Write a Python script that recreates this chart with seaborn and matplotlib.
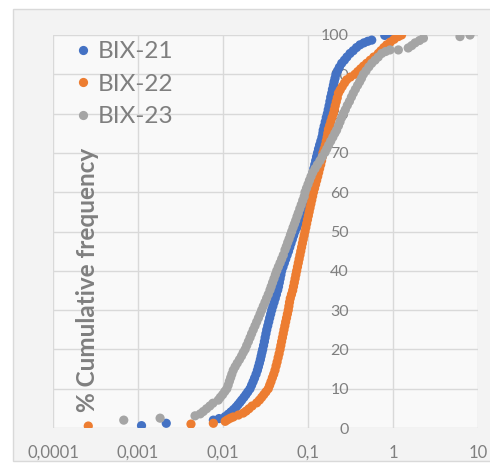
import matplotlib
matplotlib.use("Agg")
import matplotlib.pyplot as plt
from matplotlib.patches import Rectangle
import seaborn as sns
import pandas as pd

# ---- data ----
series_names = ["BIX-21", "BIX-22", "BIX-23"]
colors = ["#4472C4", "#ED7D31", "#A5A5A5"]

bix21_x = [0.00110, 0.00215, 0.00770, 0.00900, 0.01060, 0.01150, 0.01240, 0.01330, 0.01420, 0.01500,
           0.01580, 0.01660, 0.01760, 0.01860, 0.01960, 0.02080, 0.02170, 0.02260, 0.02350, 0.02450,
           0.02540, 0.02610, 0.02680, 0.02750, 0.02810, 0.02870, 0.02930, 0.03000, 0.03070, 0.03130,
           0.03200, 0.03270, 0.03360, 0.03450, 0.03540, 0.03640, 0.03740, 0.03860, 0.03990, 0.04120,
           0.04250, 0.04400, 0.04500, 0.04600, 0.04700, 0.04800, 0.04900, 0.05080, 0.05270, 0.05470,
           0.05680, 0.05900, 0.06100, 0.06310, 0.06540, 0.06780, 0.07030, 0.07370, 0.07720, 0.08080,
           0.08460, 0.08850, 0.09250, 0.09640, 0.09850, 0.10070, 0.10280, 0.10490, 0.10700, 0.10950,
           0.11200, 0.11450, 0.11700, 0.12000, 0.12300, 0.12600, 0.12950, 0.13300, 0.13700, 0.14150,
           0.14600, 0.14950, 0.15100, 0.15500, 0.15950, 0.16400, 0.16900, 0.17300, 0.17700, 0.18100,
           0.18500, 0.19000, 0.19400, 0.19900, 0.20300, 0.20800, 0.21300, 0.22300, 0.23400, 0.24900,
           0.26800, 0.28700, 0.31200, 0.34000, 0.37200, 0.40900, 0.45500, 0.50500, 0.56200, 0.80000,
           0.90000]
bix21_y = [0.6, 1.2, 2.0, 2.4, 2.9, 3.5, 4.1, 4.7, 5.3, 5.9,
           6.5, 7.1, 7.8, 8.5, 9.2, 10.0, 10.9, 11.8, 12.7, 13.7,
           14.7, 15.6, 16.5, 17.4, 18.3, 19.2, 20.0, 21.0, 22.0, 23.0,
           24.0, 25.0, 26.0, 27.0, 28.0, 29.0, 30.0, 31.0, 32.0, 33.0,
           34.0, 35.1, 36.0, 37.0, 38.0, 39.0, 40.0, 41.0, 42.0, 43.0,
           44.0, 45.0, 46.0, 47.0, 48.0, 49.0, 50.0, 51.0, 52.0, 53.0,
           54.0, 55.0, 56.0, 57.0, 58.0, 59.0, 60.0, 61.0, 62.0, 63.0,
           64.0, 65.0, 66.0, 67.0, 68.0, 69.0, 70.0, 71.0, 72.0, 73.0,
           74.0, 75.0, 75.8, 76.8, 77.9, 79.0, 80.0, 81.0, 82.0, 83.1,
           84.2, 85.2, 86.2, 87.2, 88.1, 89.0, 90.0, 90.9, 91.8, 92.8,
           93.6, 94.4, 95.3, 96.0, 96.8, 97.5, 98.0, 98.4, 98.7, 99.9,
           100.0]

bix22_x = [0.00026, 0.00420, 0.00770, 0.01060, 0.01130, 0.01220, 0.01320, 0.01520, 0.01730, 0.01870,
           0.02020, 0.02200, 0.02490, 0.02680, 0.02850, 0.03020, 0.03200, 0.03410, 0.03540, 0.03670,
           0.03810, 0.03950, 0.04090, 0.04210, 0.04330, 0.04450, 0.04570, 0.04690, 0.04790, 0.04890,
           0.05000, 0.05110, 0.05220, 0.05340, 0.05460, 0.05590, 0.05720, 0.05860, 0.05960, 0.06060,
           0.06190, 0.06390, 0.06600, 0.06750, 0.06900, 0.07050, 0.07200, 0.07360, 0.07520, 0.07690,
           0.07860, 0.08040, 0.08220, 0.08400, 0.08590, 0.08790, 0.09000, 0.09220, 0.09430, 0.09640,
           0.09860, 0.10090, 0.10320, 0.10560, 0.10810, 0.11070, 0.11330, 0.11600, 0.11940, 0.12280,
           0.12640, 0.13000, 0.13350, 0.13700, 0.14100, 0.14450, 0.14750, 0.15000, 0.15500, 0.16000,
           0.16400, 0.16800, 0.17100, 0.17400, 0.18000, 0.18600, 0.19200, 0.19900, 0.20400, 0.20900,
           0.21500, 0.22100, 0.22800, 0.23900, 0.25300, 0.26900, 0.28500, 0.31500, 0.35700, 0.38500,
           0.41600, 0.45000, 0.49000, 0.54000, 0.59500, 0.67100, 0.72000, 0.78000, 0.84300, 0.93000,
           1.03000, 1.15600, 1.26000]
bix22_y = [0.5, 1.0, 1.2, 1.7, 2.1, 2.5, 2.8, 3.3, 3.8, 4.3,
           4.9, 5.6, 6.4, 7.1, 7.8, 8.5, 9.2, 10.0, 10.9, 11.8,
           12.8, 13.7, 14.7, 15.8, 16.8, 17.9, 18.9, 20.0, 21.0, 22.0,
           23.0, 24.0, 25.0, 26.0, 27.0, 28.0, 29.0, 30.0, 31.0, 32.0,
           33.0, 34.0, 35.0, 36.0, 37.0, 38.0, 39.0, 40.0, 41.0, 42.0,
           43.0, 44.0, 45.0, 46.0, 47.0, 48.0, 49.0, 50.0, 51.0, 52.0,
           53.0, 54.0, 55.0, 56.0, 57.0, 58.0, 59.0, 60.0, 61.0, 62.0,
           63.0, 64.0, 65.0, 66.0, 67.0, 68.0, 69.0, 70.0, 71.0, 72.0,
           73.0, 74.0, 75.0, 76.0, 77.0, 78.0, 79.0, 80.0, 81.0, 82.0,
           83.0, 84.0, 85.2, 86.0, 86.9, 87.8, 88.6, 89.3, 90.0, 90.7,
           91.4, 92.1, 92.8, 93.6, 94.4, 95.3, 96.0, 96.8, 97.5, 98.2,
           98.9, 99.6, 100.0]

bix23_x = [0.00068, 0.00182, 0.00469, 0.00540, 0.00586, 0.00640, 0.00700, 0.00760, 0.00880, 0.00930,
           0.00990, 0.01050, 0.01110, 0.01150, 0.01190, 0.01230, 0.01270, 0.01320, 0.01390, 0.01470,
           0.01560, 0.01650, 0.01730, 0.01820, 0.01900, 0.01990, 0.02080, 0.02170, 0.02270, 0.02380,
           0.02490, 0.02610, 0.02730, 0.02850, 0.02980, 0.03120, 0.03260, 0.03410, 0.03570, 0.03690,
           0.03830, 0.03980, 0.04130, 0.04290, 0.04480, 0.04690, 0.04900, 0.05120, 0.05360, 0.05560,
           0.05770, 0.05990, 0.06210, 0.06430, 0.06670, 0.06920, 0.07170, 0.07430, 0.07690, 0.08010,
           0.08330, 0.08670, 0.09020, 0.09220, 0.09600, 0.10000, 0.10400, 0.10850, 0.11350, 0.12100,
           0.12900, 0.13800, 0.14700, 0.15800, 0.16600, 0.17500, 0.18500, 0.19600, 0.20700, 0.21700,
           0.22800, 0.23800, 0.24900, 0.26100, 0.27500, 0.29000, 0.30700, 0.32400, 0.34100, 0.36100,
           0.38300, 0.40500, 0.42600, 0.44800, 0.48200, 0.52000, 0.56200, 0.61500, 0.67000, 0.73600,
           0.82000, 0.92200, 1.15600, 1.51000, 1.66000, 1.82000, 2.05000, 2.28000, 6.14000, 8.05000]
bix23_y = [2.0, 2.5, 3.1, 3.6, 4.2, 4.9, 5.6, 6.3, 7.1, 7.8,
           8.5, 9.3, 10.0, 10.9, 11.9, 12.8, 13.7, 14.7, 15.6, 16.5,
           17.4, 18.3, 19.2, 20.0, 21.0, 22.0, 23.0, 24.0, 25.0, 26.0,
           27.0, 28.0, 29.0, 30.0, 31.0, 32.0, 33.0, 34.0, 35.1, 36.0,
           37.0, 38.0, 39.0, 40.0, 41.0, 42.0, 43.0, 44.0, 45.3, 46.2,
           47.2, 48.1, 49.1, 50.0, 51.0, 51.9, 52.8, 53.8, 54.7, 55.8,
           56.8, 57.9, 58.9, 60.0, 61.0, 62.0, 63.0, 64.0, 65.0, 66.0,
           67.0, 68.0, 69.0, 70.1, 71.0, 72.0, 73.0, 74.0, 75.0, 75.8,
           76.9, 77.9, 79.0, 80.0, 81.0, 82.1, 83.1, 84.2, 85.2, 86.2,
           87.2, 88.1, 89.0, 90.0, 90.9, 91.9, 92.8, 93.6, 94.4, 95.3,
           95.8, 96.2, 96.2, 96.7, 97.3, 98.0, 98.6, 99.2, 99.6, 100.0]

x_ticks = [0.0001, 0.001, 0.01, 0.1, 1, 10]
x_tick_labels = ["0,0001", "0,001", "0,01", "0,1", "1", "10"]
y_ticks = [0, 10, 20, 30, 40, 50, 60, 70, 80, 90, 100]
y_label = "% Cumulative frequency"

# ---- build long table ----
frames = []
for name, xs, ys in zip(series_names,
                        [bix21_x, bix22_x, bix23_x],
                        [bix21_y, bix22_y, bix23_y]):
    frames.append(pd.DataFrame({"value": xs, "cum": ys, "series": name}))
df = pd.concat(frames, ignore_index=True)

sns.set_theme(style="white")
plt.rcParams["font.family"] = ["Lato", "DejaVu Sans"]

W, H = 490, 466
fig = plt.figure(figsize=(W / 100, H / 100), dpi=100)
fig.patch.set_facecolor("white")

ax = fig.add_axes([53 / W, 1 - 428 / H, (478 - 53) / W, (428 - 35) / H])
ax.set_zorder(2)
ax.set_facecolor("#f9f9f9")

# chart-area background with thin border (behind the axes)
bg = Rectangle((13 / W, 5 / H), 1 - 13 / W + 0.01, (H - 9 - 5) / H,
               transform=fig.transFigure, facecolor="#f3f3f3",
               edgecolor="#d9d9d9", linewidth=1.0, zorder=-10)
fig.add_artist(bg)

sns.scatterplot(data=df, x="value", y="cum", hue="series", hue_order=series_names,
                palette=colors, s=44, edgecolor="none", linewidth=0, alpha=1,
                ax=ax, zorder=3, legend=True)

ax.set_xscale("log")
ax.set_xlim(0.0001, 10)
ax.set_ylim(0, 100)
ax.set_xticks(x_ticks)
ax.set_xticklabels(x_tick_labels)
ax.minorticks_off()
ax.set_yticks(y_ticks)
ax.set_yticklabels([str(v) for v in y_ticks])

grid_c = "#d9d9d9"
ax.grid(True, color=grid_c, linewidth=1.0, zorder=0)
ax.set_axisbelow(True)
for s in ["top", "left", "bottom"]:
    ax.spines[s].set_visible(False)
ax.spines["right"].set_position(("data", 0.1))
ax.spines["right"].set_color("none")
ax.yaxis.set_ticks_position("right")

lab_c = "#7f7f7f"
ax.tick_params(axis="x", length=0, pad=12, labelsize=12, labelcolor=lab_c)
ax.tick_params(axis="y", length=0, pad=29.5, labelsize=11.5, labelcolor=lab_c)
for t in ax.get_yticklabels():
    t.set_horizontalalignment("right")

ax.set_xlabel("")
ax.set_ylabel("")
fig.text(88 / W, 1 - 280 / H, y_label, rotation=90, ha="center", va="center",
         fontsize=17.5, fontweight="bold", color=lab_c, zorder=5)

leg = ax.legend(loc="upper left", bbox_to_anchor=(73 / W, 1 - 41 / H),
                bbox_transform=fig.transFigure, frameon=False, fontsize=17.5,
                handlelength=0.8, handletextpad=0.2, labelspacing=0.48,
                borderpad=0, borderaxespad=0, markerscale=1.0)
for t in leg.get_texts():
    t.set_color(lab_c)

fig.savefig("out.png", dpi=100, facecolor=fig.get_facecolor())
